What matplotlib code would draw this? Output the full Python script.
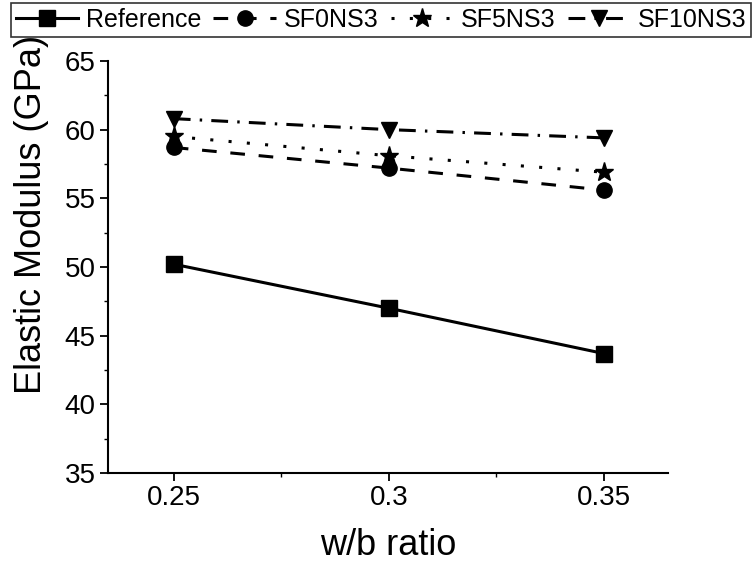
import matplotlib
matplotlib.use("Agg")
import matplotlib.pyplot as plt
from matplotlib.ticker import MultipleLocator

plt.rcParams['font.family'] = ['Liberation Sans', 'DejaVu Sans']

wb_ratio = [0.25, 0.30, 0.35]
reference = [50.2, 47.0, 43.7]
sf0ns3 = [58.7, 57.2, 55.6]
sf5ns3 = [59.5, 58.1, 56.9]
sf10ns3 = [60.8, 60.0, 59.4]
labels = ["Reference", "SF0NS3", "SF5NS3", "SF10NS3"]

fig = plt.figure(figsize=(7.52, 5.67), dpi=100)
ax = fig.add_axes([0.1436, 0.1658, 0.888 - 0.1436, 0.8925 - 0.1658])

lw = 2.2
ax.plot(wb_ratio, reference, color='black', lw=lw, ls='-', marker='s', ms=11, label=labels[0])
ax.plot(wb_ratio, sf0ns3, color='black', lw=lw, ls=(0, (4.8, 4.5)), marker='o', ms=11, label=labels[1])
ax.plot(wb_ratio, sf5ns3, color='black', lw=lw, ls=(0, (1, 5)), marker='*', ms=14, label=labels[2])
ax.plot(wb_ratio, sf10ns3, color='black', lw=lw, ls=(0, (5.5, 3, 0.8, 3)), marker='v', ms=12, label=labels[3])

ax.set_xlim(0.2347, 0.3649)
ax.set_ylim(35, 65)
ax.set_xticks(wb_ratio)
ax.set_xticklabels(["0.25", "0.3", "0.35"])
ax.xaxis.set_minor_locator(MultipleLocator(0.025))
ax.yaxis.set_major_locator(MultipleLocator(5))
ax.yaxis.set_minor_locator(MultipleLocator(2.5))

for s in ['top', 'right']:
    ax.spines[s].set_visible(False)
for s in ['left', 'bottom']:
    ax.spines[s].set_linewidth(1.5)

ax.tick_params(axis='both', which='major', direction='out', length=6, width=1.3, labelsize=20, colors='black', pad=3)
ax.tick_params(axis='both', which='minor', direction='out', length=3, width=1.0)

ax.set_xlabel("w/b ratio", fontsize=26, labelpad=12)
ax.set_ylabel("Elastic Modulus (GPa)", fontsize=26)
ax.yaxis.set_label_coords(-0.105, 0.627)

leg = fig.legend(loc='upper left', bbox_to_anchor=(0.014, 0.995), ncol=4, fontsize=18,
                 frameon=True, fancybox=False, edgecolor='black', handlelength=2.5,
                 handletextpad=0.3, columnspacing=0.5, borderpad=0.2, borderaxespad=0.0)
leg.get_frame().set_linewidth(1.2)

fig.savefig("out.png", dpi=100)
